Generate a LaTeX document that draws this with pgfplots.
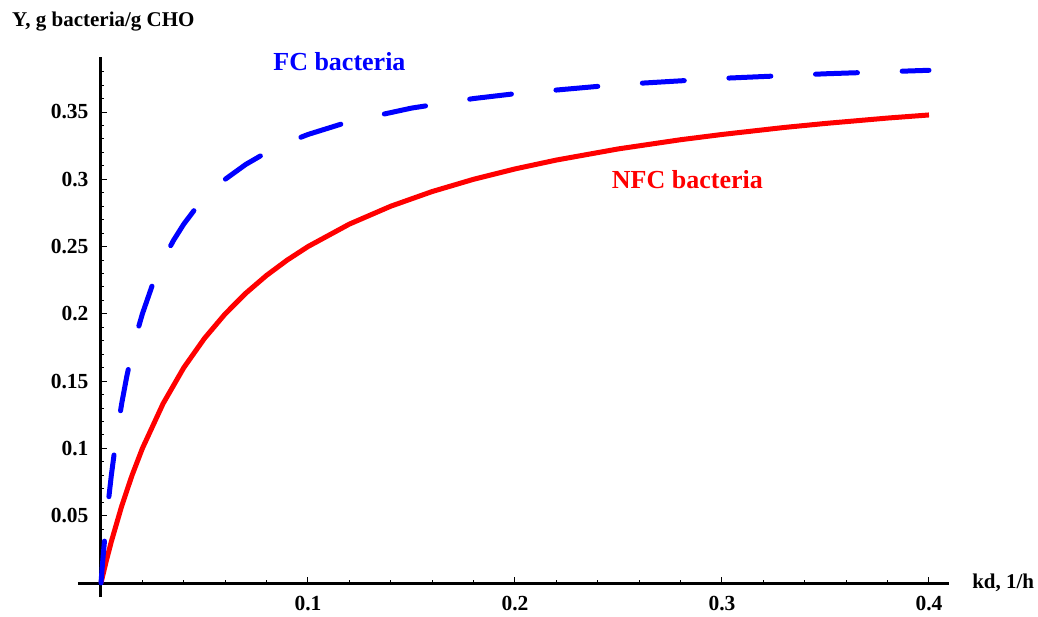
\documentclass[border=0pt]{standalone}
\usepackage{pgfplots}
\pgfplotsset{compat=1.18}
\usepackage{fontspec}
\setmainfont{Liberation Serif}
\definecolor{myblue}{RGB}{0,0,255}
\definecolor{myred}{RGB}{255,0,0}
\begin{document}
\begin{tikzpicture}
\path[use as bounding box] (-78pt,-19pt) rectangle (960pt,597pt);
\begin{axis}[
  x=2070pt, y=1345.7pt,
  xmin=-0.0111, xmax=0.4097,
  ymin=-0.0104, ymax=0.3909,
  axis lines=middle,
  axis line style={-, line width=3pt, black},
  clip=false,
  tick align=inside,
  xtick={0.1,0.2,0.3,0.4},
  xticklabels={0.1,0.2,0.3,0.4},
  ytick={0.05,0.1,0.15,0.2,0.25,0.3,0.35},
  yticklabels={0.05,0.1,0.15,0.2,0.25,0.3,0.35},
  minor xtick={0.02,0.04,0.06,0.08,0.12,0.14,0.16,0.18,0.22,0.24,0.26,0.28,0.32,0.34,0.36,0.38},
  minor ytick={0.01,0.02,0.03,0.04,0.06,0.07,0.08,0.09,0.11,0.12,0.13,0.14,0.16,0.17,0.18,0.19,0.21,0.22,0.23,0.24,0.26,0.27,0.28,0.29,0.31,0.32,0.33,0.34,0.36,0.37,0.38},
  major tick length=6pt,
  minor tick length=3.5pt,
  every tick/.style={black, line width=1pt},
  ticklabel style={font=\fontsize{21.5}{24}\selectfont\bfseries},
  xticklabel style={anchor=north, yshift=-10pt},
  yticklabel style={anchor=east, xshift=-9pt},
]
\addplot[myred, line width=5pt, line join=round] coordinates {
(0,0) (0.0025,0.016) (0.005,0.03077) (0.01,0.05714) (0.015,0.08) (0.02,0.1)
(0.03,0.1333) (0.04,0.16) (0.05,0.1818) (0.06,0.2) (0.07,0.2154) (0.08,0.2286)
(0.09,0.24) (0.1,0.25) (0.12,0.2667) (0.14,0.28) (0.16,0.2909) (0.18,0.3)
(0.2,0.3077) (0.22,0.3143) (0.25,0.3226) (0.28,0.3294) (0.3,0.3333)
(0.33,0.3385) (0.35,0.3415) (0.38,0.3455) (0.4,0.3478)
};
\addplot[myblue, line width=5pt, line cap=round, line join=round, dash pattern={on 42pt off 44.7pt}] coordinates {
(0,0) (0.001,0.01905) (0.0015,0.0279) (0.0025,0.0444) (0.0035,0.0596) (0.005,0.08)
(0.0075,0.1091) (0.01,0.1333) (0.0125,0.1538) (0.015,0.1714) (0.0175,0.1867)
(0.02,0.2) (0.025,0.2222) (0.03,0.24) (0.035,0.2545) (0.04,0.2667) (0.045,0.2769)
(0.05,0.2857) (0.06,0.3) (0.07,0.3111) (0.08,0.32) (0.09,0.3273) (0.1,0.3333)
(0.12,0.3429) (0.15,0.3529) (0.18,0.36) (0.2,0.3636) (0.25,0.3704) (0.3,0.375)
(0.35,0.3784) (0.4,0.381)
};
\node[font=\fontsize{26}{30}\selectfont\bfseries, text=myblue] at (axis cs:0.1152,0.3872) {FC bacteria};
\node[font=\fontsize{26}{30}\selectfont\bfseries, text=myred] at (axis cs:0.2833,0.2995) {NFC bacteria};
\node[font=\fontsize{21}{24}\selectfont\bfseries, anchor=west, inner sep=0pt] at ([xshift=23pt]axis cs:0.4097,0) {kd, 1/h};
\node[font=\fontsize{21}{24}\selectfont\bfseries, anchor=west, inner sep=0pt] at ([xshift=-89pt, yshift=35pt]axis cs:0,0.3909) {Y, g bacteria/g CHO};
\end{axis}
\end{tikzpicture}
\end{document}
